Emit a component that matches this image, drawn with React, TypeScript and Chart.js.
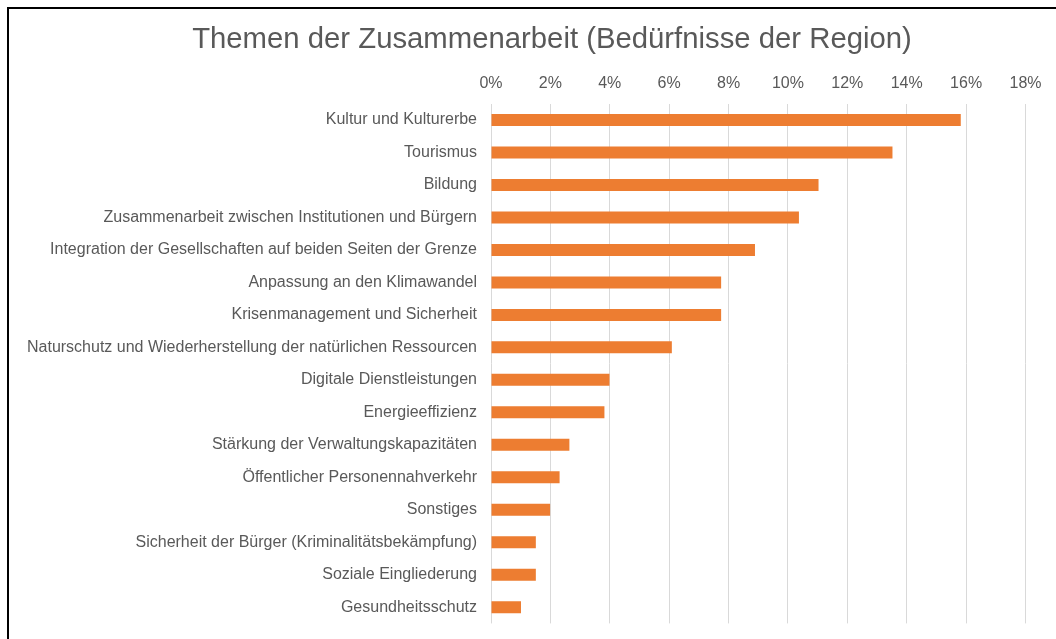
import React, { useEffect, useRef } from "react";
import { Chart, registerables } from "chart.js";

Chart.register(...registerables);

const TITLE = "Themen der Zusammenarbeit (Bedürfnisse der Region)";

const categories: string[] = [
  "Kultur und Kulturerbe",
  "Tourismus",
  "Bildung",
  "Zusammenarbeit zwischen Institutionen und Bürgern",
  "Integration der Gesellschaften auf beiden Seiten der Grenze",
  "Anpassung an den Klimawandel",
  "Krisenmanagement und Sicherheit",
  "Naturschutz und Wiederherstellung der natürlichen Ressourcen",
  "Digitale Dienstleistungen",
  "Energieeffizienz",
  "Stärkung der Verwaltungskapazitäten",
  "Öffentlicher Personennahverkehr",
  "Sonstiges",
  "Sicherheit der Bürger (Kriminalitätsbekämpfung)",
  "Soziale Eingliederung",
  "Gesundheitsschutz",
];

const shares: number[] = [
  15.82, 13.52, 11.03, 10.37, 8.89, 7.75, 7.75, 6.09, 3.99, 3.82, 2.64, 2.31,
  1.99, 1.51, 1.51, 1.01,
];

const xTickMin = 0;
const xTickMax = 18;
const xTickStep = 2;

const TEXT = "#595959";
const BAR = "#ED7D31";
const GRID = "#D9D9D9";
const FONT = "'Liberation Sans', Arial, sans-serif";

const titlePlugin = {
  id: "offsetTitle",
  afterDraw(chart: any) {
    const ctx = chart.ctx;
    ctx.save();
    ctx.fillStyle = TEXT;
    ctx.font = `normal 29.3px ${FONT}`;
    ctx.textAlign = "center";
    ctx.textBaseline = "middle";
    ctx.fillText(TITLE, 543, 31);
    ctx.restore();
  },
};

export default function App() {
  const ref = useRef<HTMLCanvasElement | null>(null);

  useEffect(() => {
    if (!ref.current) return;
    const chart = new Chart(ref.current, {
      type: "bar",
      data: {
        labels: categories,
        datasets: [
          {
            data: shares,
            backgroundColor: BAR,
            borderWidth: 0,
            categoryPercentage: 1,
            barPercentage: 0.37,
          },
        ],
      },
      plugins: [titlePlugin],
      options: {
        indexAxis: "y",
        animation: false,
        responsive: false,
        maintainAspectRatio: false,
        devicePixelRatio: 1,
        layout: { padding: { left: 0, right: 30.5, top: 64.6, bottom: 0 } },
        plugins: {
          legend: { display: false },
          tooltip: { enabled: false },
          title: { display: false },
        },
        scales: {
          x: {
            position: "top",
            min: xTickMin,
            max: xTickMax,
            ticks: {
              stepSize: xTickStep,
              color: TEXT,
              padding: 11,
              font: { family: FONT, size: 16 },
              callback: (v: any) => `${v}%`,
            },
            grid: { color: GRID, lineWidth: 1, drawTicks: false },
            border: { display: false },
            afterFit: (s: any) => {
              s.height = 30.2;
            },
          },
          y: {
            ticks: {
              color: TEXT,
              padding: 14,
              font: { family: FONT, size: 16 },
              autoSkip: false,
            },
            grid: { display: false, drawTicks: false },
            border: { display: false },
            afterFit: (s: any) => {
              s.width = 482;
            },
          },
        },
      },
    });
    return () => chart.destroy();
  }, []);

  return (
    <div
      style={{
        position: "fixed",
        left: 0,
        top: 0,
        width: 1056,
        height: 639,
        overflow: "hidden",
        background: "#fff",
      }}
    >
      <div
        style={{
          position: "absolute",
          left: 7,
          top: 7,
          width: 1100,
          height: 700,
          borderTop: "2px solid #000",
          borderLeft: "2px solid #000",
        }}
      />
      <canvas
        ref={ref}
        width={1047}
        height={638}
        style={{ position: "absolute", left: 9, top: 9, width: 1047, height: 638 }}
      />
    </div>
  );
}
